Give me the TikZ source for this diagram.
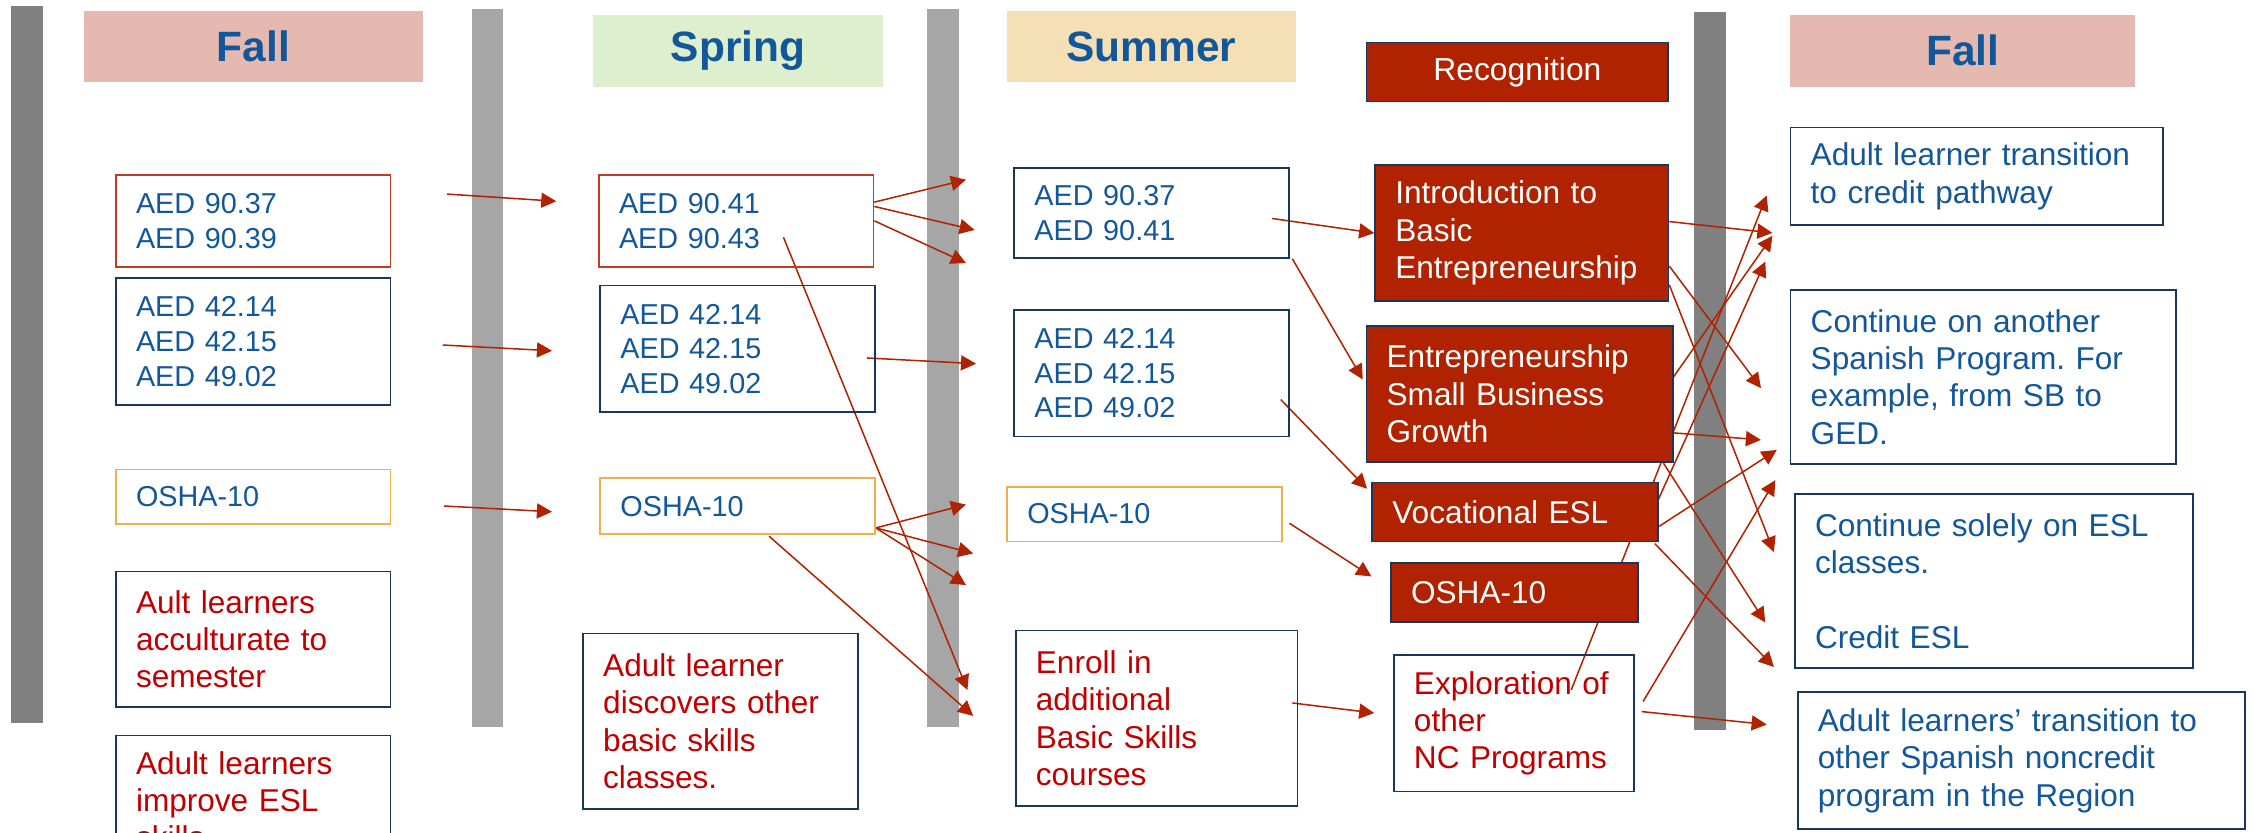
\documentclass[tikz,border=0pt]{standalone}
\usepackage{fontspec}
\setmainfont{Liberation Sans}
\usetikzlibrary{arrows.meta,calc}
\frenchspacing

\definecolor{txtblue}{HTML}{13579B}
\definecolor{notered}{HTML}{C00000}
\definecolor{recred}{HTML}{B02200}
\definecolor{navy}{HTML}{17375E}
\definecolor{boxred}{HTML}{C23B22}
\definecolor{boxorange}{HTML}{EDB04A}
\definecolor{fallfill}{HTML}{E6B9B0}
\definecolor{springfill}{HTML}{DDEFCC}
\definecolor{summerfill}{HTML}{F5E0B5}
\definecolor{bardark}{HTML}{808080}
\definecolor{barlight}{HTML}{A6A6A6}

\pgfdeclarelayer{bars}
\pgfdeclarelayer{links}
\pgfsetlayers{bars,links,main}

\tikzset{
  season/.style={anchor=north west, inner sep=0pt, text=txtblue,
    font=\fontsize{16.8}{20}\selectfont\bfseries},
  course/.style={draw, line width=0.7pt, anchor=north west, align=left,
    inner xsep=0.28cm, inner ysep=0pt, text=txtblue,
    font=\fontsize{11.4}{13.7}\selectfont},
  note/.style={course, draw=navy, text=notered,
    font=\fontsize{12.5}{14.8}\selectfont},
  recog/.style={note, fill=recred, text=white},
  outcome/.style={note, text=txtblue},
  link/.style={draw=recred, line width=0.6pt,
    -{Triangle[length=0.21cm,width=0.21cm]}}
}

\begin{document}
\begin{tikzpicture}[x=0.02cm,y=-0.02cm]
\useasboundingbox (0,0) rectangle (1568,579);
\clip (0,0) rectangle (1568,579);

% term dividers
\begin{pgfonlayer}{bars}
\foreach \x/\ya/\yb/\c in {7.6/4.2/503/bardark,328/6.3/505.6/barlight,
    644.6/6.3/505.6/barlight,1178.7/8.3/508/bardark}
  \fill[fill=\c] (\x,\ya) rectangle (\x+22.2,\yb);
\end{pgfonlayer}

% term headers
\foreach \nm/\x/\y/\bw/\bh/\c/\txt in {hfall/58/7/236/50/fallfill/Fall,
    hspring/412/10/202/50/springfill/Spring,
    hsummer/700/7/201/50/summerfill/Summer,
    hfalltwo/1245/10/240/50/fallfill/Fall}{
  \pgfmathsetmacro\ww{\bw*0.02}\pgfmathsetmacro\hh{\bh*0.02}
  \node[season, fill=\c, minimum width=\ww cm, minimum height=\hh cm] (\nm) at (\x,\y) {\txt};
}
\node[recog, anchor=north west, align=center, inner sep=0pt, minimum width=4.2cm,
  minimum height=0.82cm, font=\fontsize{12.6}{14}\selectfont] (recog) at (950,29) {Recognition};

% course boxes
\foreach \nm/\x/\y/\bw/\bh/\c/\txt in {
    f1/80/121/191/64/boxred/{AED 90.37\\AED 90.39},
    f2/80/193/191/88/navy/{AED 42.14\\AED 42.15\\AED 49.02},
    f3/80/326/191/38/boxorange/{OSHA-10},
    s1/416/121/191/64/boxred/{AED 90.41\\AED 90.43},
    s2/417/198/191/88/navy/{AED 42.14\\AED 42.15\\AED 49.02},
    s3/417/332/191/39/boxorange/{OSHA-10},
    m1/705/116/191/63/navy/{AED 90.37\\AED 90.41},
    m2/705/215/191/88/navy/{AED 42.14\\AED 42.15\\AED 49.02},
    m3/700/338/191/38/boxorange/{OSHA-10}}{
  \pgfmathsetmacro\tw{(\bw-28)*0.02}\pgfmathsetmacro\hh{\bh*0.02}
  \node[course, draw=\c, text width=\tw cm, minimum height=\hh cm] (\nm) at (\x,\y) {\txt};
}

% learner notes
\foreach \nm/\x/\y/\bw/\bh/\txt in {
    f4/80/397/191/94/{Ault learners\\acculturate to\\semester},
    f5/80/511/191/90/{Adult learners\\improve ESL\\skills},
    s4/405/440/191/122/{Adult learner\\discovers other\\basic skills\\classes.},
    m4/706/438/196/122/{Enroll in\\additional\\Basic Skills\\courses},
    r5/969/455/167/95/{Exploration of\\other\\NC Programs}}{
  \pgfmathsetmacro\tw{(\bw-28)*0.02}\pgfmathsetmacro\hh{\bh*0.02}
  \node[note, text width=\tw cm, minimum height=\hh cm] (\nm) at (\x,\y) {\txt};
}

% recognition
\foreach \nm/\x/\y/\bw/\bh/\txt in {
    r1/956/114/204/95/{Introduction to\\Basic\\Entrepreneurship},
    r2/950/226/213/95/{Entrepreneurship\\Small Business\\Growth},
    r3/954/335/199/41/{Vocational ESL},
    r4/967/391/172/41/{OSHA-10}}{
  \pgfmathsetmacro\tw{(\bw-28)*0.02}\pgfmathsetmacro\hh{\bh*0.02}
  \node[recog, text width=\tw cm, minimum height=\hh cm] (\nm) at (\x,\y) {\txt};
}

% outcomes
\foreach \nm/\x/\y/\bw/\bh/\txt in {
    g1/1245/88/259/68/{Adult learner transition\\to credit pathway},
    g2/1245/201/268/121/{Continue on another\\Spanish Program. For\\example, from SB to\\GED.},
    g3/1248/343/277/121/{Continue solely on ESL\\classes.\\[0.52cm]Credit ESL},
    g4/1250/481/311/95/{Adult learners’ transition to\\other Spanish noncredit\\program in the Region}}{
  \pgfmathsetmacro\tw{(\bw-28)*0.02}\pgfmathsetmacro\hh{\bh*0.02}
  \node[outcome, text width=\tw cm, minimum height=\hh cm] (\nm) at (\x,\y) {\txt};
}

% free ends of the arrows
\foreach \nm/\x/\y in {fs1/311/135,fs2/308/240,fs3/309/352,
    sp1/387/140,sp2/384/244,sp3/384/356,
    sx1/545/165,sx2/603/249,sx3/535/373,
    su1/672/125,su2/678/160,su3/672/183,su4/673/480,su5/679/253,
    su6/672/351,su7/677/385,su8/672/407,su9/677/498,
    mx1/885/152,mx2/899/180,mx3/891/278,mx4/897/364,mx5/899/489,
    rc2/948/264,rc3/951/340,rc4/954/401,rc5/956/496,
    rx1/1148/360,rx2/1093/480,rx3/1143/488,rx4/1142/495,
    ft1/1229/136,ft2/1233/162,ft3/1233/164,ft4/1228/182,
    ft5/1225/270,ft6/1225/306,ft7/1236/313,ft8/1235/334,
    ft9/1234/384,ft10/1228/433,ft11/1234/464,ft12/1229/504}
  \coordinate (\nm) at (\x,\y);

\begin{pgfonlayer}{links}
% fall -> spring
\foreach \a/\b in {fs1/sp1,fs2/sp2,fs3/sp3}
  \draw[link] (\a) -- (\b);
% spring -> summer
\draw[link] ($(s1.east)+(0,-13)$) -- (su1);
\draw[link] ($(s1.east)+(0,-10)$) -- (su2);
\draw[link] (s1.east) -- (su3);
\draw[link] (sx1) -- (su4);
\draw[link] (sx2) -- (su5);
\foreach \b in {su6,su7,su8}
  \draw[link] ($(s3.south east)+(0,-5)$) -- (\b);
\draw[link] (sx3) -- (su9);
% summer -> recognition
\draw[link] (mx1) -- (r1.west);
\foreach \a/\b in {mx2/rc2,mx3/rc3,mx4/rc4,mx5/rc5}
  \draw[link] (\a) -- (\b);
% recognition -> next fall
\draw[link] ($(r1.east)+(0,-8)$) -- (ft2);
\draw[link] ($(r1.east)+(0,23)$) -- (ft5);
\draw[link] ($(r1.east)+(0,36)$) -- (ft9);
\draw[link] ($(r2.east)+(0,-12)$) -- (ft3);
\draw[link] ($(r2.east)+(0,27)$) -- (ft6);
\draw[link] ($(r2.south east)+(-7,0)$) -- (ft10);
\draw[link] (rx1) -- (ft4);
\draw[link] ($(r3.east)+(0,10)$) -- (ft7);
\draw[link] ($(r3.south east)+(-3,1)$) -- (ft11);
\draw[link] (rx2) -- (ft1);
\draw[link] (rx3) -- (ft8);
\draw[link] (rx4) -- (ft12);
\end{pgfonlayer}
\end{tikzpicture}
\end{document}
